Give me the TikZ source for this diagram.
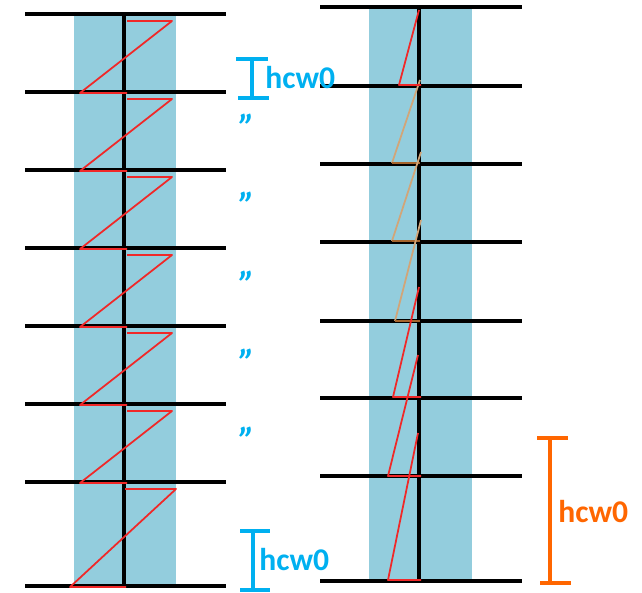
\documentclass[tikz,border=0pt]{standalone}
\usepackage{fontspec}
\setmainfont{Carlito}
\definecolor{colblue}{RGB}{147,205,221}
\definecolor{markblue}{RGB}{0,176,240}
\definecolor{markorange}{RGB}{255,102,0}
\definecolor{zigred}{RGB}{240,40,40}
\definecolor{zigtan}{RGB}{210,165,120}
\definecolor{zigbrown}{RGB}{165,100,45}
\begin{document}
\begin{tikzpicture}[x=0.02cm,y=-0.02cm,
        level/.style={line width=2.2pt,black},
        zig/.style={line width=1pt,zigred,line join=round},
        markbar/.style={line width=2pt},
        tag/.style={font=\bfseries\fontsize{18}{18}\selectfont,inner sep=0pt,anchor=west},
        ditto/.style={font=\bfseries\itshape\fontsize{21}{21}\selectfont,text=markblue,inner sep=0pt,anchor=north}]
        \useasboundingbox (0,0) rectangle (642,592);
        % columns
        \fill[colblue] (74,14) rectangle (176,586);
        \fill[colblue] (369,7) rectangle (472,581);
        % levels and axes
        \foreach \y in {14,92,170,248,326,404,482,586}
            \draw[level] (25,\y) -- (226,\y);
        \foreach \y in {7,86,164,242,321,398,476,581}
            \draw[level] (320,\y) -- (522,\y);
        \draw[level] (124,14) -- (124,586);
        \draw[level] (419,7) -- (419,581);
        % left zigzags, one per cell
        \foreach \ya/\yb in {14/92,92/170,170/248,248/326,326/404,404/482}
            \draw[zig] (127,\ya+7) -- (172,\ya+7) -- (80,\yb+1) -- (127,\yb+1);
        \draw[zig] (125,489) -- (176,489) -- (70,587) -- (126,587);
        % right saw teeth
        \foreach \xa/\ya/\xb/\yb in {420/80/392/163,421/152/392/241,421/220/395/321} {
            \draw[line width=1pt,zigtan] (\xa,\ya) -- (\xb,\yb);
            \draw[line width=1pt,zigbrown] (\xb,\yb) -- (420,\yb);
        }
        \foreach \xa/\ya/\xb/\yb in {419/10/399/85,419/287/393/397,418/355/388/476,418/433/388/580}
            \draw[zig] (\xa,\ya) -- (\xb,\yb) -- (421,\yb);
        % height markers
        \draw[markbar,markblue] (236,59) -- (268,59) (252,59) -- (252,98) (238,98) -- (269,98);
        \node[tag,markblue] (hcwtop) at (265,78) {hcw0};
        \draw[markbar,markblue] (240,531) -- (270,531) (253,531) -- (253,590) (240,590) -- (270,590);
        \node[tag,markblue] (hcwbot) at (259,560) {hcw0};
        \draw[line width=2.3pt,markorange] (537,438) -- (568,438) (550,438) -- (550,583) (540,583) -- (571,583);
        \node[tag,markorange] (hcwside) at (558,512) {hcw0};
        \foreach \y [count=\i] in {114,192,271,349,427}
            \node[ditto] (same\i) at (247,\y) {"};
    \end{tikzpicture}
\end{document}
